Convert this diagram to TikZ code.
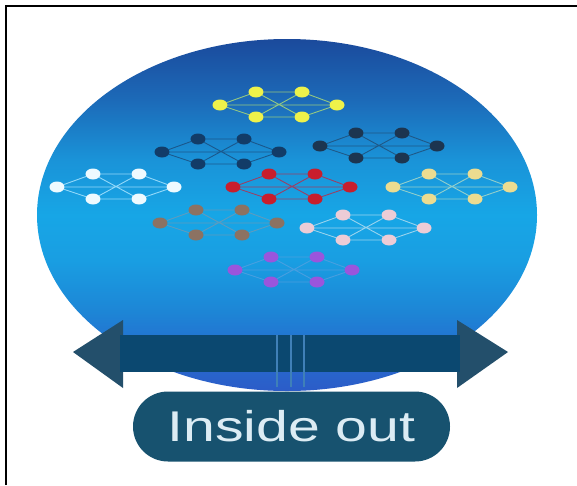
\documentclass[tikz,border=0pt]{standalone}
\usepackage{fontspec}
\setmainfont{Liberation Sans}
\usepackage{graphicx}
\usetikzlibrary{shapes.geometric}
\definecolor{s1}{HTML}{1B4A9C}
\definecolor{s2}{HTML}{1C6AB8}
\definecolor{s3}{HTML}{1A93D8}
\definecolor{s4}{HTML}{17A6E6}
\definecolor{s5}{HTML}{199EE2}
\definecolor{s6}{HTML}{1D86D6}
\definecolor{s7}{HTML}{2470D0}
\definecolor{s8}{HTML}{2C5CC8}
\pgfdeclareverticalshading{ballshade}{100bp}{color(0bp)=(s8); color(25bp)=(s8); color(31.4bp)=(s7); color(36.4bp)=(s6); color(43.6bp)=(s5); color(50bp)=(s4); color(57.9bp)=(s3); color(66.4bp)=(s2); color(75bp)=(s1); color(100bp)=(s1)}
\definecolor{dotY}{HTML}{EEF24A}\definecolor{linkY}{HTML}{A8D878}
\definecolor{dotN}{HTML}{123C68}\definecolor{linkN}{HTML}{1A4F80}
\definecolor{dotM}{HTML}{1C3550}\definecolor{linkM}{HTML}{20507A}
\definecolor{dotW}{HTML}{EEFAFF}\definecolor{linkW}{HTML}{A8E4FF}
\definecolor{dotR}{HTML}{C81E2C}\definecolor{linkR}{HTML}{B03050}
\definecolor{dotB}{HTML}{ECDC90}\definecolor{linkB}{HTML}{A8D8C8}
\definecolor{dotG}{HTML}{8C7262}\definecolor{linkG}{HTML}{6A9AB8}
\definecolor{dotP}{HTML}{ECCCD6}\definecolor{linkP}{HTML}{B0DCF0}
\definecolor{dotV}{HTML}{9A55DC}\definecolor{linkV}{HTML}{50A0E0}
\definecolor{barc}{HTML}{0B4870}
\definecolor{headc}{HTML}{234F6B}
\definecolor{pillc}{HTML}{17526F}
\definecolor{txtc}{HTML}{DCECF4}
\definecolor{stripec}{HTML}{3F80B8}
\tikzset{
  dot/.style={ellipse, minimum width=15, minimum height=11, inner sep=0pt, draw=none},
  link/.style={draw=#1, line width=0.9pt, opacity=0.85},
  stripe/.style={draw=stripec, line width=1.3pt},
  pill/.style={fill=pillc, text=txtc, minimum width=317, minimum height=70, rounded corners=35pt, inner sep=0pt, font=\fontsize{43}{50}\selectfont},
  pics/net/.style 2 args={code={
    \node[dot, fill=#1] (-L) at (0,0) {};
    \node[dot, fill=#1] (-TL) at (36,-13) {};
    \node[dot, fill=#1] (-BL) at (36,12) {};
    \node[dot, fill=#1] (-TR) at (82,-13) {};
    \node[dot, fill=#1] (-BR) at (82,12) {};
    \node[dot, fill=#1] (-R) at (117,0) {};
    \draw[link=#2] (-L) -- (-TL) (-L) -- (-BL) (-TL) -- (-TR) (-BL) -- (-BR)
      (-TL) -- (-BR) (-BL) -- (-TR) (-TR) -- (-R) (-BR) -- (-R) (-L) -- (-R);
  }}
}
\begin{document}
\begin{tikzpicture}[x=1pt, y=-1pt]
\useasboundingbox (0,0) rectangle (577,485);
\fill[white] (0,0) rectangle (577,485);
\draw[black, line width=2pt] (6,485) -- (6,6) -- (577,6);
\node[ellipse, shading=ballshade, minimum width=500, minimum height=352, inner sep=0pt] (ball) at (287,215) {};
\pic (yel) at (220,105) {net={dotY}{linkY}};
\pic (navl) at (162,152) {net={dotN}{linkN}};
\pic (navr) at (320,146) {net={dotM}{linkM}};
\pic (wht) at (57,187) {net={dotW}{linkW}};
\pic (red) at (233,187) {net={dotR}{linkR}};
\pic (bge) at (393,187) {net={dotB}{linkB}};
\pic (brn) at (160,223) {net={dotG}{linkG}};
\pic (pnk) at (307,228) {net={dotP}{linkP}};
\pic (vio) at (235,270) {net={dotV}{linkV}};
% double arrow
\fill[headc] (123,320) -- (73,352) -- (123,388) -- cycle;
\fill[headc] (457,320) -- (508,352) -- (457,388) -- cycle;
\fill[barc] (120,335) rectangle (460,372);
\draw[stripe] (277,335) -- (277,387);
\draw[stripe] (291,335) -- (291,387);
\draw[stripe] (304,335) -- (304,387);
\node[pill] (lbl) at (291.5,426.5) {\scalebox{1.33}[1]{Inside out}};
\end{tikzpicture}
\end{document}
